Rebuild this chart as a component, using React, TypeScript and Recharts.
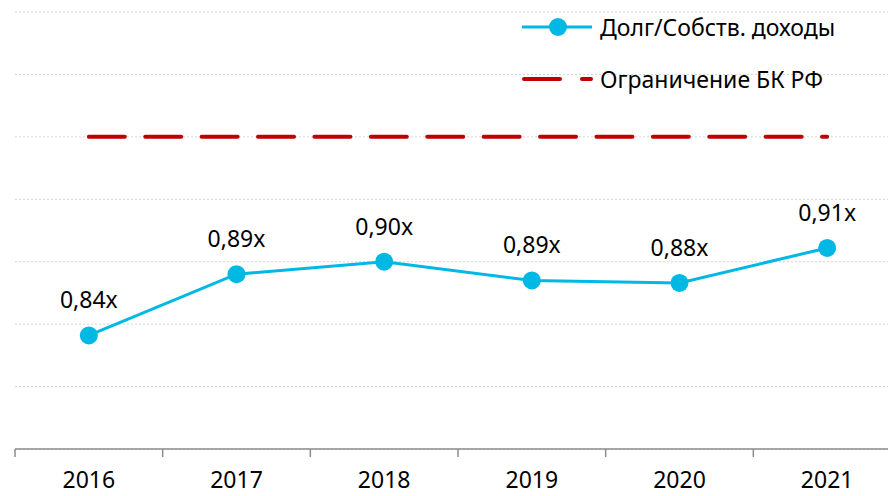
import React from "react";
import { LineChart, Line, XAxis, YAxis, CartesianGrid, LabelList } from "recharts";

const years = ["2016", "2017", "2018", "2019", "2020", "2021"];
const debtRatio = [0.841, 0.89, 0.9, 0.885, 0.883, 0.911];
const limitValue = [1.0, 1.0, 1.0, 1.0, 1.0, 1.0];
const yTicks = [0.75, 0.8, 0.85, 0.9, 0.95, 1.0, 1.05, 1.1];
const seriesNames = ["Долг/Собств. доходы", "Ограничение БК РФ"];

const data = years.map((y, i) => ({ year: y, debt: debtRatio[i], limit: limitValue[i] }));

const FONT = "'Noto Sans', sans-serif";
const FS = 23;
const CHART_W = 920;
const CHART_H = 496;
const M = { top: 12, right: 19, bottom: 17, left: 15 };
const PLOT_W = CHART_W - M.left - M.right;
const HALF_STEP = PLOT_W / years.length / 2;
const BLUE = "#00B8E4";
const RED = "#C00000";

const fmt = (v: any) => Number(v).toFixed(2).replace(".", ",") + "x";

const Tick = (props: any) => {
  const { x, y, payload, index } = props;
  const axisY = y - 8;
  return (
    <g>
      <line x1={x - HALF_STEP} x2={x - HALF_STEP} y1={axisY} y2={axisY + 8} stroke="#8c8c8c" strokeWidth={1.5} />
      {index === years.length - 1 && (
        <line x1={x + HALF_STEP} x2={x + HALF_STEP} y1={axisY} y2={axisY + 8} stroke="#8c8c8c" strokeWidth={1.5} />
      )}
      <text x={x} y={axisY + 39} textAnchor="middle" fontFamily={FONT} fontSize={FS} fill="#000">
        {payload.value}
      </text>
    </g>
  );
};

const Legend = () => (
  <svg style={{ position: "absolute", left: 0, top: 0 }} width={888} height={110}>
    <line x1={522} x2={592} y1={27} y2={27} stroke={BLUE} strokeWidth={3} />
    <circle cx={558} cy={27} r={9} fill={BLUE} />
    <text x={600} y={27} dominantBaseline="central" fontFamily={FONT} fontSize={FS} fill="#000">
      {seriesNames[0]}
    </text>
    <line x1={524} x2={560} y1={79} y2={79} stroke={RED} strokeWidth={4} strokeLinecap="round" />
    <line x1={582} x2={591} y1={79} y2={79} stroke={RED} strokeWidth={4} strokeLinecap="round" />
    <text x={600} y={79} dominantBaseline="central" fontFamily={FONT} fontSize={FS} fill="#000">
      {seriesNames[1]}
    </text>
  </svg>
);

export default function App() {
  return (
    <div style={{ position: "absolute", left: 0, top: 0, width: 888, height: 496, overflow: "hidden", background: "#fff" }}>
      <LineChart width={CHART_W} height={CHART_H} data={data} margin={M}>
        <CartesianGrid vertical={false} stroke="#d4d4d4" strokeDasharray="2 2" />
        <YAxis hide domain={[0.75, 1.1]} ticks={yTicks} />
        <XAxis
          dataKey="year"
          height={30}
          padding={{ left: HALF_STEP, right: HALF_STEP }}
          axisLine={{ stroke: "#8c8c8c", strokeWidth: 1.5 }}
          tickLine={false}
          tick={<Tick />}
          interval={0}
        />
        <Line
          dataKey="limit"
          stroke={RED}
          strokeWidth={4}
          strokeDasharray="36 20.4"
          strokeLinecap="round"
          dot={false}
          activeDot={false}
          isAnimationActive={false}
        />
        <Line
          dataKey="debt"
          stroke={BLUE}
          strokeWidth={3}
          dot={{ r: 9, fill: BLUE, stroke: BLUE, strokeWidth: 0 }}
          activeDot={false}
          isAnimationActive={false}
        >
          <LabelList dataKey="debt" position="top" offset={27} formatter={fmt} fontFamily={FONT} fontSize={FS} fill="#000" />
        </Line>
      </LineChart>
      <Legend />
    </div>
  );
}
